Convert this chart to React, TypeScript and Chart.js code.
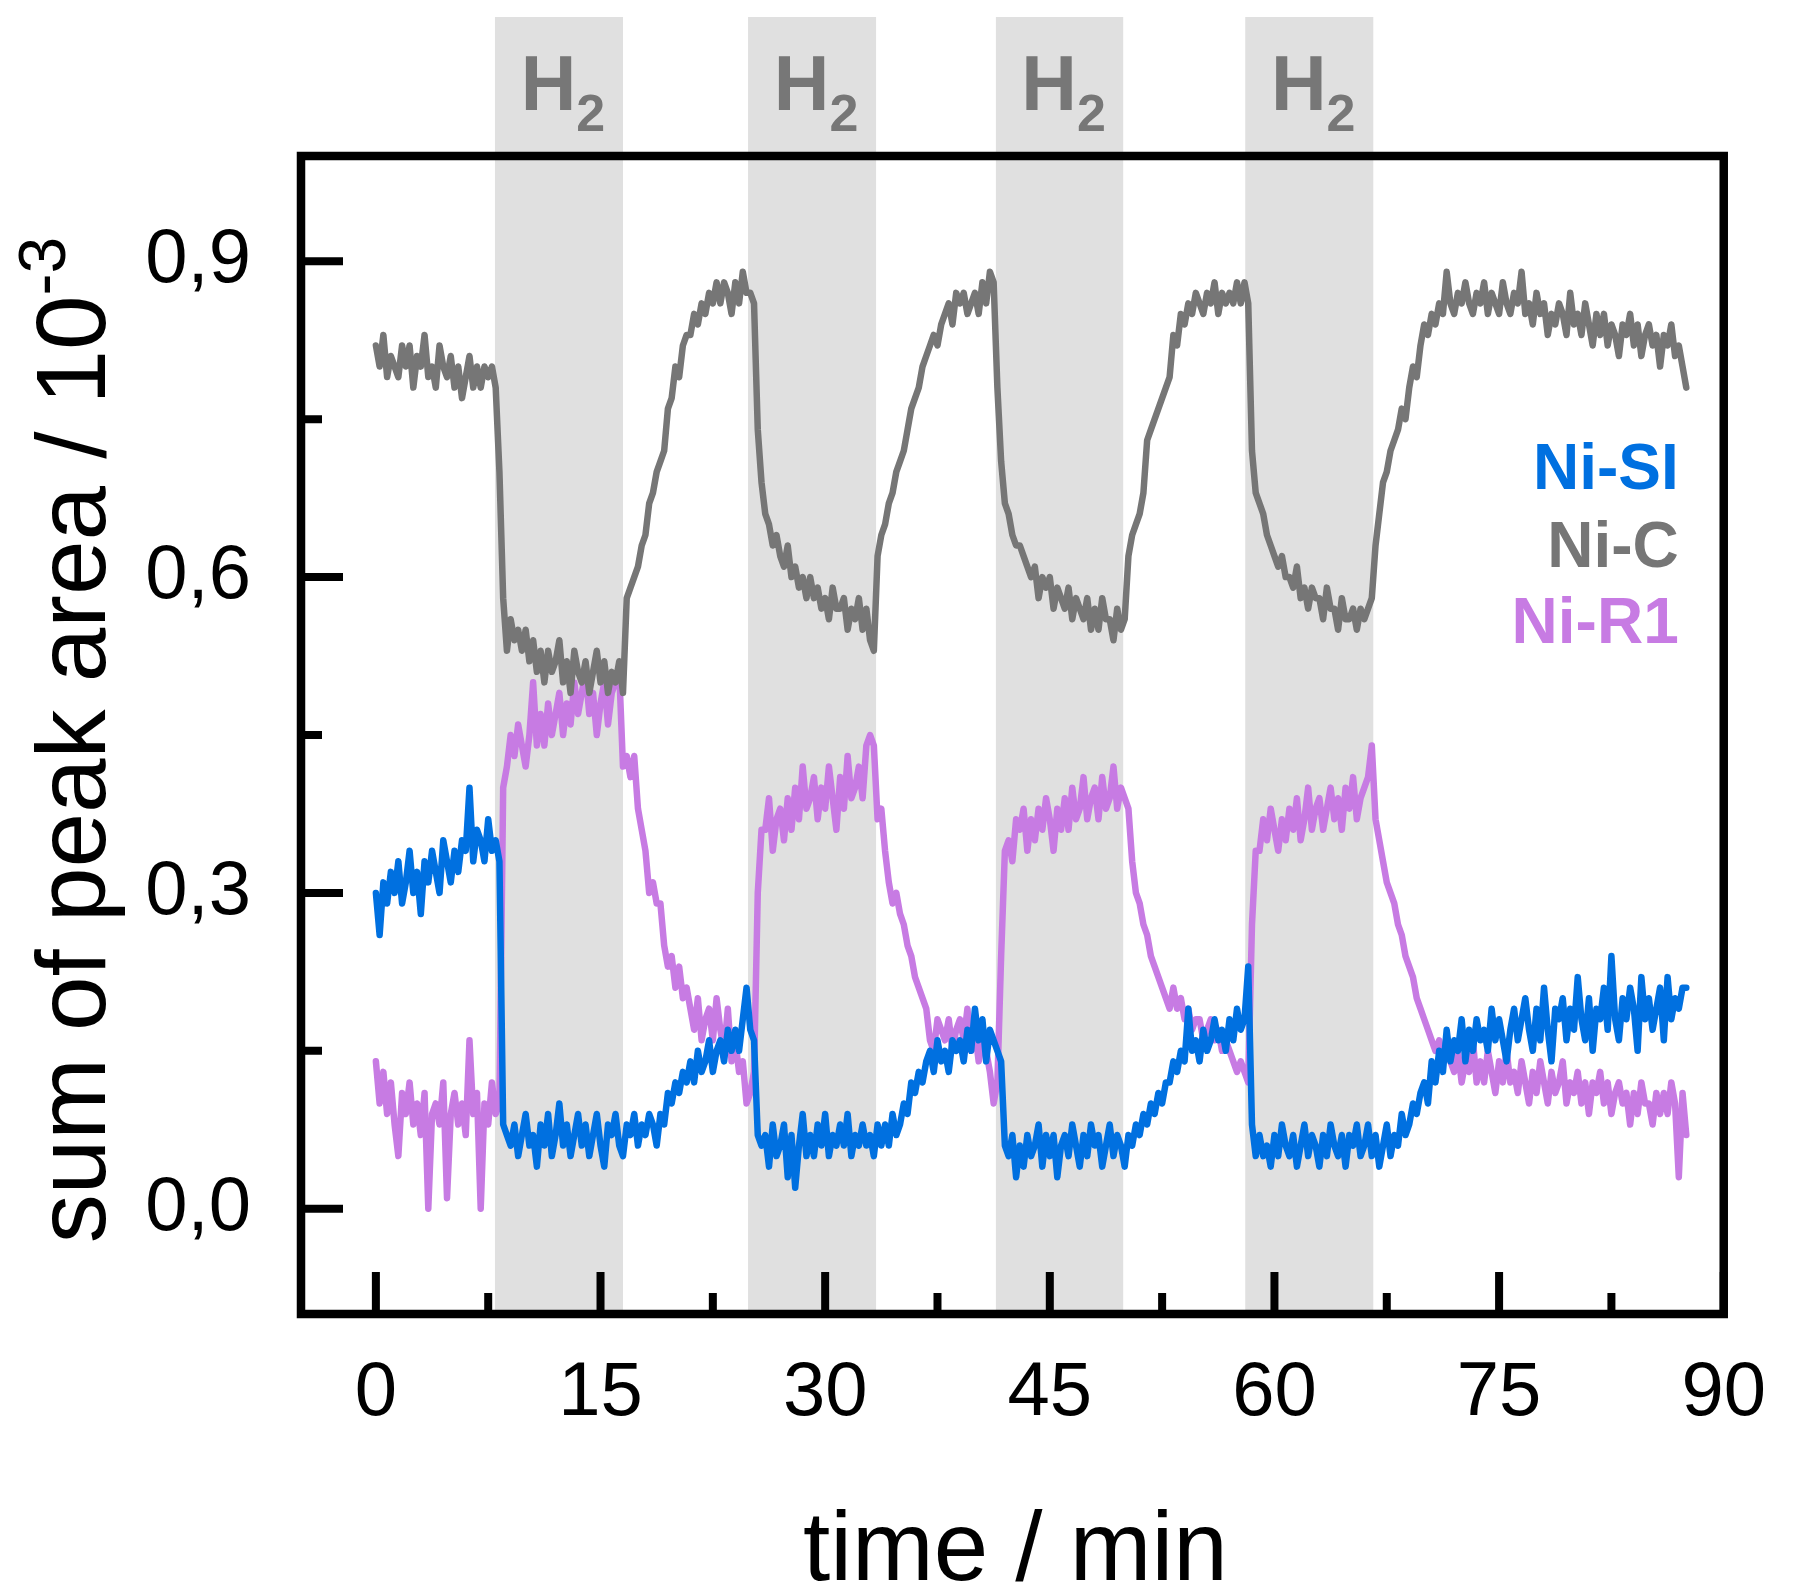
import React, { useEffect, useRef } from 'react';
import { Chart, registerables } from 'chart.js';

Chart.register(...registerables);

// sampling interval of the recorded traces (minutes)
const SAMPLE_INTERVAL_MIN = 0.25;

// Ni-C (gray), 4 samples per minute
const NI_C = [
  .82,.80,.83,.79, .81,.80,.79,.82, .80,.82,.78,.81, .80,.83,.79,.80,
  .78,.82,.80,.79, .81,.78,.80,.77, .79,.81,.78,.80, .78,.80,.79,.80,
  .78,.70,.58,.53, .56,.54,.55,.53, .55,.52,.54,.51, .53,.50,.53,.51,
  .52,.54,.50,.52, .49,.53,.51,.50, .52,.49,.51,.53, .50,.52,.49,.51,
  .50,.52,.49,.58, .59,.60,.61,.63, .64,.67,.68,.70, .71,.72,.76,.77,
  .80,.79,.82,.83, .83,.85,.84,.86, .85,.87,.86,.88, .86,.88,.87,.85,
  .88,.86,.89,.87, .87,.86,.74,.69, .66,.65,.63,.64, .62,.61,.63,.60,
  .61,.59,.60,.58, .60,.58,.59,.57, .58,.56,.59,.57, .57,.58,.55,.57,
  .56,.58,.55,.57, .54,.53,.62,.64, .65,.67,.68,.70, .71,.72,.74,.76,
  .77,.78,.80,.81, .82,.83,.82,.84, .85,.86,.84,.87, .86,.87,.85,.86,
  .87,.85,.88,.86, .89,.88,.78,.71, .67,.66,.64,.63, .63,.62,.61,.60,
  .61,.58,.60,.59, .60,.57,.59,.58, .57,.59,.56,.58, .57,.56,.58,.55,
  .57,.55,.58,.56, .56,.54,.57,.55, .56,.62,.64,.65, .66,.68,.73,.74,
  .75,.76,.77,.78, .79,.83,.82,.85, .84,.86,.85,.87, .86,.85,.87,.86,
  .88,.85,.87,.86, .87,.86,.88,.86, .88,.86,.72,.68, .67,.66,.64,.63,
  .62,.61,.62,.60, .60,.59,.61,.58, .59,.57,.59,.58, .58,.56,.59,.57,
  .57,.55,.58,.56, .56,.57,.55,.57, .56,.57,.58,.63, .66,.69,.70,.72,
  .73,.74,.76,.75, .78,.80,.79,.82, .84,.83,.85,.84, .86,.85,.89,.86,
  .85,.87,.86,.88, .86,.85,.87,.86, .88,.85,.87,.86, .85,.88,.86,.85,
  .87,.86,.89,.85, .86,.84,.87,.85, .86,.83,.85,.84, .86,.85,.83,.87,
  .84,.85,.83,.86, .84,.82,.85,.83, .85,.82,.84,.83, .81,.84,.83,.85,
  .82,.84,.81,.83, .84,.82,.83,.80, .83,.82,.84,.81, .82,.80,.78,
];

// Ni-SI (blue)
const NI_SI = [
  .30,.26,.31,.29, .32,.30,.33,.29, .31,.34,.30,.32, .28,.33,.31,.34,
  .32,.30,.35,.33, .31,.34,.32,.35, .34,.40,.33,.36, .35,.33,.37,.34,
  .35,.33,.08,.07, .06,.08,.05,.07, .09,.06,.07,.04, .08,.06,.09,.05,
  .07,.10,.06,.08, .05,.07,.09,.06, .08,.05,.07,.09, .06,.04,.08,.07,
  .09,.06,.05,.08, .07,.09,.06,.08, .07,.09,.08,.06, .09,.08,.11,.10,
  .12,.11,.13,.12, .14,.12,.15,.13, .14,.16,.13,.15, .16,.14,.17,.15,
  .17,.15,.18,.21, .17,.16,.07,.06, .07,.04,.08,.05, .06,.08,.03,.07,
  .02,.06,.09,.05, .07,.05,.08,.06, .09,.05,.07,.06, .08,.06,.09,.05,
  .07,.06,.08,.06, .07,.05,.08,.06, .08,.06,.09,.07, .08,.10,.09,.12,
  .11,.13,.12,.14, .15,.13,.16,.14, .15,.13,.16,.15, .16,.14,.17,.15,
  .19,.16,.18,.14, .17,.16,.15,.14, .06,.05,.07,.03, .06,.04,.07,.05,
  .06,.08,.04,.07, .05,.07,.03,.06, .07,.05,.08,.06, .04,.07,.05,.08,
  .06,.07,.04,.06, .08,.05,.07,.06, .04,.07,.06,.08, .07,.09,.08,.10,
  .09,.11,.10,.12, .12,.14,.13,.15, .14,.19,.15,.16, .14,.17,.15,.16,
  .18,.16,.17,.15, .18,.16,.19,.17, .18,.23,.08,.05, .07,.05,.06,.04,
  .07,.05,.08,.06, .05,.07,.04,.06, .08,.05,.07,.06, .04,.07,.05,.08,
  .06,.05,.07,.04, .07,.06,.08,.05, .06,.08,.05,.07, .04,.06,.08,.05,
  .07,.06,.09,.07, .08,.10,.09,.11, .12,.10,.14,.12, .15,.13,.17,.14,
  .16,.15,.18,.14, .17,.15,.18,.16, .17,.15,.19,.16, .18,.16,.14,.17,
  .19,.16,.18,.20, .17,.15,.19,.16, .21,.17,.14,.19, .18,.20,.16,.19,
  .17,.22,.18,.16, .20,.15,.19,.18, .21,.17,.24,.18, .16,.20,.18,.21,
  .19,.15,.22,.18, .20,.17,.19,.21, .16,.22,.18,.20, .19,.21,.21,
];

// Ni-R1 (violet)
const NI_R1 = [
  .14,.10,.13,.09, .12,.08,.05,.11, .09,.12,.08,.10, .07,.11,.00,.09,
  .10,.08,.12,.01, .09,.11,.08,.10, .07,.16,.09,.11, .00,.10,.08,.12,
  .09,.10,.40,.42, .45,.43,.46,.44, .42,.45,.50,.44, .47,.44,.48,.45,
  .47,.49,.45,.48, .46,.50,.47,.49, .51,.47,.49,.45, .48,.50,.46,.49,
  .50,.51,.42,.43, .41,.43,.38,.36, .34,.30,.31,.29, .29,.25,.23,.24,
  .21,.23,.20,.21, .19,.17,.20,.16, .18,.19,.16,.20, .17,.15,.19,.14,
  .16,.13,.14,.10, .11,.13,.30,.36, .36,.39,.34,.37, .38,.35,.39,.36,
  .40,.37,.42,.38, .39,.41,.37,.40, .38,.42,.39,.36, .41,.38,.43,.39,
  .40,.42,.39,.44, .45,.44,.37,.38, .34,.31,.29,.30, .28,.27,.25,.24,
  .22,.21,.20,.19, .16,.15,.18,.17, .16,.18,.15,.17, .18,.16,.19,.15,
  .17,.14,.16,.15, .13,.10,.12,.24, .34,.35,.33,.37, .36,.38,.34,.37,
  .35,.38,.36,.39, .37,.34,.38,.36, .39,.36,.40,.37, .38,.41,.37,.39,
  .40,.37,.41,.38, .39,.42,.38,.40, .39,.38,.33,.30, .29,.27,.26,.24,
  .23,.22,.21,.20, .19,.21,.19,.20, .18,.19,.17,.18, .18,.16,.17,.18,
  .16,.17,.15,.16, .15,.14,.13,.14, .13,.12,.27,.34, .34,.37,.35,.38,
  .36,.34,.37,.35, .38,.36,.39,.35, .37,.40,.36,.38, .39,.36,.38,.40,
  .37,.39,.36,.40, .38,.41,.37,.39, .40,.41,.44,.37, .35,.33,.31,.30,
  .29,.27,.26,.24, .23,.22,.20,.19, .18,.17,.16,.15, .16,.14,.15,.14,
  .13,.15,.12,.14, .13,.16,.12,.14, .12,.15,.13,.11, .14,.12,.15,.12,
  .13,.11,.14,.12, .10,.13,.11,.14, .12,.10,.13,.11, .12,.14,.10,.12,
  .11,.13,.10,.12, .09,.12,.11,.13, .10,.12,.09,.11, .12,.10,.11,.08,
  .11,.09,.12,.10, .10,.08,.11,.09, .11,.09,.12,.10, .03,.11,.07,
];

// H2 exposure windows (minutes)
const H2_WINDOWS: [number, number][] = [
  [7.95, 16.5],
  [24.85, 33.4],
  [41.4, 49.9],
  [58.05, 66.6],
];

const X_MAJOR_TICKS = [0, 15, 30, 45, 60, 75, 90];
const X_MINOR_TICKS = [7.5, 22.5, 37.5, 52.5, 67.5, 82.5];
const Y_MAJOR_TICKS = [0, 0.3, 0.6, 0.9];
const Y_MINOR_TICKS = [0.15, 0.45, 0.75];

const SERIES_LABELS = ['Ni-SI', 'Ni-C', 'Ni-R1'];

const FONT = "'Liberation Sans', Arial, Helvetica, sans-serif";
const BLUE = '#0070e0';
const GRAY = '#767676';
const VIOLET = '#c77be3';
const SHADE = '#e0e0e0';
const H2_COLOR = '#777777';

const toPoints = (arr: number[]) =>
  arr.map((v, i) => ({ x: i * SAMPLE_INTERVAL_MIN, y: v }));

const decorPlugin = {
  id: 'decor',
  beforeDatasetsDraw(chart: any) {
    const { ctx, chartArea, scales } = chart;
    const xs = scales.x;
    ctx.save();
    ctx.fillStyle = SHADE;
    const shadeTop = 17;
    for (const [s, e] of H2_WINDOWS) {
      const x1 = xs.getPixelForValue(s);
      const x2 = xs.getPixelForValue(e);
      ctx.fillRect(x1, shadeTop, x2 - x1, chartArea.bottom - shadeTop);
    }
    ctx.restore();
  },
  afterDatasetsDraw(chart: any) {
    const { ctx, chartArea, scales } = chart;
    const xs = scales.x;
    const ys = scales.y;
    const { left, right, top, bottom } = chartArea;
    ctx.save();

    // frame
    ctx.strokeStyle = '#000';
    ctx.lineWidth = 8.5;
    ctx.lineJoin = 'miter';
    ctx.strokeRect(left, top, right - left, bottom - top);

    // inward ticks
    ctx.lineWidth = 8;
    ctx.lineCap = 'butt';
    ctx.beginPath();
    for (const v of X_MAJOR_TICKS) {
      const px = xs.getPixelForValue(v);
      ctx.moveTo(px, bottom);
      ctx.lineTo(px, bottom - 42);
    }
    for (const v of X_MINOR_TICKS) {
      const px = xs.getPixelForValue(v);
      ctx.moveTo(px, bottom);
      ctx.lineTo(px, bottom - 21);
    }
    for (const v of Y_MAJOR_TICKS) {
      const py = ys.getPixelForValue(v);
      ctx.moveTo(left, py);
      ctx.lineTo(left + 42, py);
    }
    for (const v of Y_MINOR_TICKS) {
      const py = ys.getPixelForValue(v);
      ctx.moveTo(left, py);
      ctx.lineTo(left + 21, py);
    }
    ctx.stroke();

    // H2 labels
    ctx.fillStyle = H2_COLOR;
    ctx.textBaseline = 'alphabetic';
    ctx.textAlign = 'left';
    for (const [s, e] of H2_WINDOWS) {
      const cx = (xs.getPixelForValue(s) + xs.getPixelForValue(e)) / 2 + 4;
      ctx.font = `bold 77px ${FONT}`;
      const wH = ctx.measureText('H').width;
      ctx.font = `bold 52px ${FONT}`;
      const w2 = ctx.measureText('2').width;
      const x0 = cx - (wH + w2) / 2;
      ctx.font = `bold 77px ${FONT}`;
      ctx.fillText('H', x0, 110);
      ctx.font = `bold 52px ${FONT}`;
      ctx.fillText('2', x0 + wH, 131);
    }

    // legend text
    ctx.textAlign = 'right';
    ctx.font = `bold 64px ${FONT}`;
    const legendColors = [BLUE, GRAY, VIOLET];
    const legendBase = [489, 567, 643];
    SERIES_LABELS.forEach((lab, i) => {
      ctx.fillStyle = legendColors[i];
      ctx.fillText(lab, right - 45, legendBase[i]);
    });

    // x title
    ctx.fillStyle = '#000';
    ctx.textAlign = 'center';
    ctx.font = `98px ${FONT}`;
    ctx.fillText('time / min', (left + right) / 2 + 3, 1580);

    // y title with superscript
    const main = 'sum of peak area / 10';
    const sup = '-3';
    ctx.font = `98px ${FONT}`;
    const wMain = ctx.measureText(main).width;
    ctx.font = `66px ${FONT}`;
    const wSup = ctx.measureText(sup).width;
    const cy = (top + bottom) / 2 + 5;
    ctx.save();
    ctx.translate(105, cy);
    ctx.rotate(-Math.PI / 2);
    ctx.textAlign = 'left';
    const sx = -(wMain + wSup) / 2;
    ctx.font = `98px ${FONT}`;
    ctx.fillText(main, sx, 0);
    ctx.font = `66px ${FONT}`;
    ctx.fillText(sup, sx + wMain, -40);
    ctx.restore();

    ctx.restore();
  },
};

const lineStyle = {
  borderWidth: 6.5,
  pointRadius: 0,
  tension: 0,
  borderJoinStyle: 'round' as const,
  borderCapStyle: 'round' as const,
};

export default function App() {
  const canvasRef = useRef<HTMLCanvasElement | null>(null);

  useEffect(() => {
    const canvas = canvasRef.current;
    if (!canvas) return;
    const chart = new Chart(canvas, {
      type: 'line',
      data: {
        datasets: [
          { label: SERIES_LABELS[0], data: toPoints(NI_SI), borderColor: BLUE, backgroundColor: BLUE, order: 0, ...lineStyle },
          { label: SERIES_LABELS[1], data: toPoints(NI_C), borderColor: GRAY, backgroundColor: GRAY, order: 1, ...lineStyle },
          { label: SERIES_LABELS[2], data: toPoints(NI_R1), borderColor: VIOLET, backgroundColor: VIOLET, order: 2, ...lineStyle },
        ],
      },
      options: {
        animation: false,
        responsive: false,
        devicePixelRatio: 1,
        layout: { padding: { left: 0, right: 59, top: 156, bottom: 0 } },
        plugins: {
          legend: { display: false },
          tooltip: { enabled: false },
          title: { display: false },
        },
        scales: {
          x: {
            type: 'linear',
            min: -5,
            max: 90,
            grid: { display: false, drawTicks: false },
            border: { display: false },
            afterBuildTicks: (s: any) => {
              s.ticks = X_MAJOR_TICKS.map((v) => ({ value: v }));
            },
            afterFit: (s: any) => {
              s.height = 282;
            },
            ticks: {
              autoSkip: false,
              maxRotation: 0,
              padding: 34,
              color: '#000',
              font: { family: FONT, size: 76 },
              callback: (v: any) => String(v),
            },
          },
          y: {
            type: 'linear',
            min: -0.1,
            max: 1.0,
            grid: { display: false, drawTicks: false },
            border: { display: false },
            afterBuildTicks: (s: any) => {
              s.ticks = Y_MAJOR_TICKS.map((v) => ({ value: v }));
            },
            afterFit: (s: any) => {
              s.width = 301;
            },
            ticks: {
              autoSkip: false,
              padding: 50,
              color: '#000',
              font: { family: FONT, size: 76 },
              callback: (v: any) => Number(v).toFixed(1).replace('.', ','),
            },
          },
        },
      },
      plugins: [decorPlugin],
    });
    return () => chart.destroy();
  }, []);

  return (
    <div style={{ position: 'absolute', left: 0, top: 0, width: 1800, height: 1596, background: '#fff' }}>
      <canvas ref={canvasRef} width={1800} height={1596} style={{ width: 1800, height: 1596, display: 'block' }} />
    </div>
  );
}
